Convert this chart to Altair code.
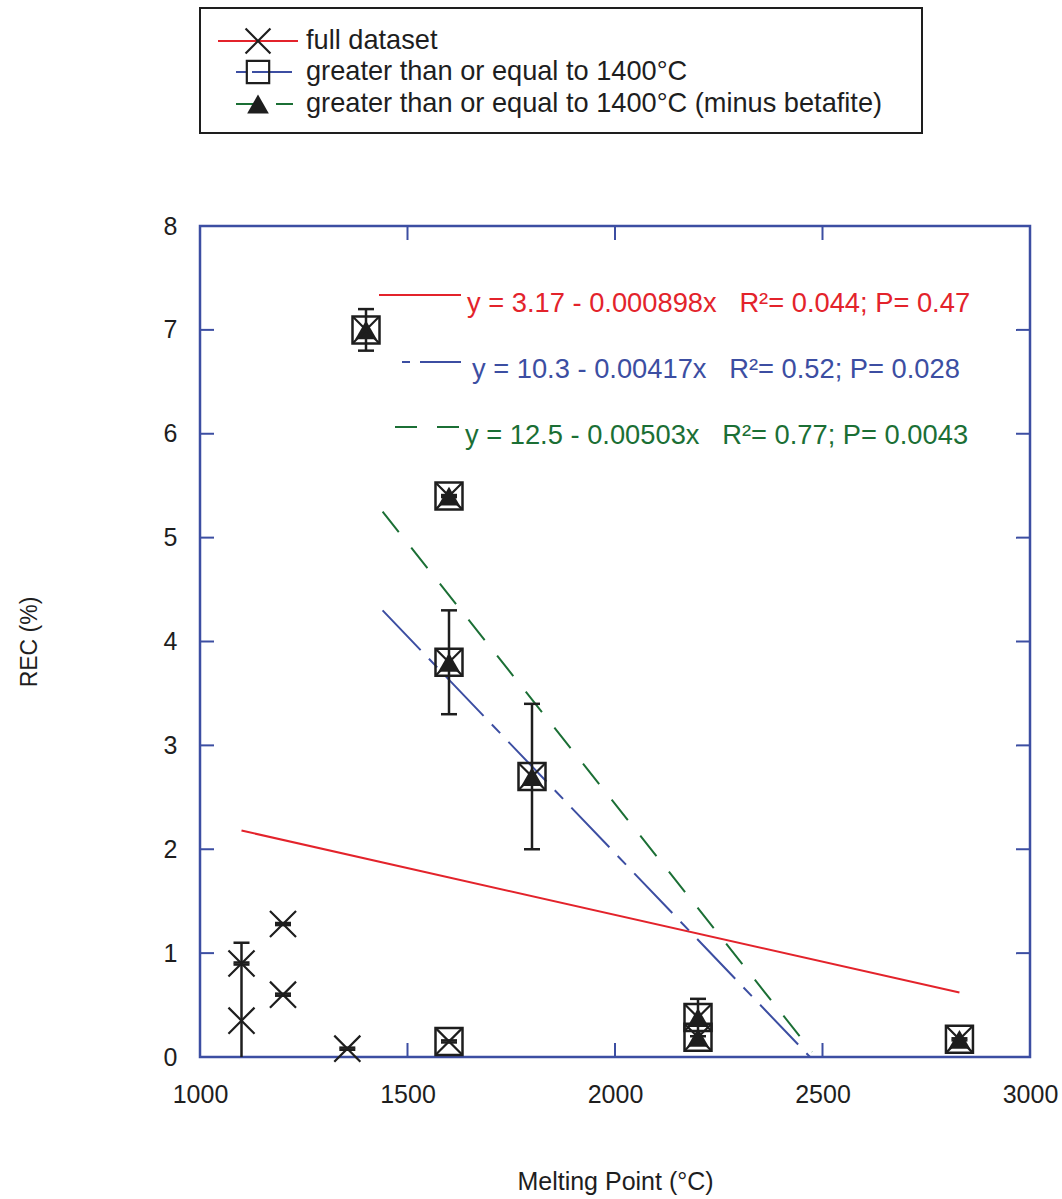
import altair as alt
import pandas as pd

# ---------------- data ----------------
full_x = [1100, 1100, 1200, 1200, 1355, 1400, 1600, 1600, 1600, 1800, 2200, 2200, 2830]
full_y = [0.35, 0.9, 1.28, 0.6, 0.08, 7.0, 5.4, 3.8, 0.15, 2.7, 0.38, 0.19, 0.17]

ge_x = [1400, 1600, 1600, 1600, 1800, 2200, 2200, 2830]
ge_y = [7.0, 5.4, 3.8, 0.15, 2.7, 0.38, 0.19, 0.17]

mb_x = [1400, 1600, 1600, 1800, 2200, 2200, 2830]
mb_y = [7.0, 5.4, 3.8, 2.7, 0.38, 0.19, 0.17]

err_x = [1100, 1100, 1200, 1200, 1355, 1400, 1600, 1600, 1600, 1800, 2200, 2830]
err_lo = [-0.4, 0.89, 1.27, 0.59, 0.07, 6.8, 5.39, 3.3, 0.14, 2.0, 0.2, 0.16]
err_hi = [1.1, 0.91, 1.29, 0.61, 0.09, 7.2, 5.41, 4.3, 0.16, 3.4, 0.56, 0.18]

fit_full_x = [1100, 2830]
fit_full_y = [2.18, 0.62]
fit_ge_x = [1440, 2470]
fit_ge_y = [4.3, 0.0]
fit_mb_x = [1440, 2475]
fit_mb_y = [5.25, 0.05]

x_ticks = [1000, 1500, 2000, 2500, 3000]
y_ticks = [0, 1, 2, 3, 4, 5, 6, 7, 8]
x_inner = [1500, 2000, 2500]
y_inner = [1, 2, 3, 4, 5, 6, 7]

legend_labels = ["full dataset", "greater than or equal to 1400°C",
                 "greater than or equal to 1400°C (minus betafite)"]
eq_labels = [
    "y = 3.17 - 0.000898x\u00a0\u00a0\u00a0R²= 0.044; P= 0.47",
    "y = 10.3 - 0.00417x\u00a0\u00a0\u00a0R²= 0.52; P= 0.028",
    "y = 12.5 - 0.00503x\u00a0\u00a0\u00a0R²= 0.77; P= 0.0043",
]

# ---------------- style ----------------
RED = "#e3232b"
BLUE = "#3c4ea2"
GREEN = "#1b6f35"
FRAME = "#3c4ea2"
INK = "#1e1e1e"
FONT = "Liberation Sans"
W, H = 830, 831
X_PATH = "M-1,-1L1,1M-1,1L1,-1"

xs = alt.Scale(domain=[1000, 3000], nice=False, zero=False)
ys = alt.Scale(domain=[0, 8], nice=False, zero=False)

X = lambda f="x": alt.X(f"{f}:Q", scale=xs, axis=alt.Axis(
    values=x_ticks, title="Melting Point (°C)", grid=False, ticks=False, tickSize=0,
    domain=False, labelFontSize=25, labelPadding=25, titleFontSize=25,
    titleFontWeight="normal", titlePadding=62, labelFont=FONT, titleFont=FONT,
    labelColor=INK, titleColor=INK, format="d", labelFlush=False))
Y = lambda f="y": alt.Y(f"{f}:Q", scale=ys, axis=alt.Axis(
    values=y_ticks, title="REC (%)", grid=False, ticks=False, tickSize=0,
    domain=False, labelFontSize=25, labelPadding=23, titleFontSize=23,
    titleFontWeight="normal", titlePadding=122, labelFont=FONT, titleFont=FONT,
    labelColor=INK, titleColor=INK, labelFlush=False))

df_full = pd.DataFrame({"x": full_x, "y": full_y})
df_ge = pd.DataFrame({"x": ge_x, "y": ge_y})
df_mb = pd.DataFrame({"x": mb_x, "y": mb_y})
df_err = pd.DataFrame({"x": err_x, "lo": err_lo, "hi": err_hi})

def fit_df(xv, yv):
    return pd.DataFrame({"x": xv, "y": yv})

line_full = alt.Chart(fit_df(fit_full_x, fit_full_y)).mark_line(
    color=RED, strokeWidth=2, clip=True).encode(x=X(), y=Y())
line_ge = alt.Chart(fit_df(fit_ge_x, fit_ge_y)).mark_line(
    color=BLUE, strokeWidth=2, strokeDash=[55, 12, 12, 12], clip=True).encode(x=X(), y=Y())
line_mb = alt.Chart(fit_df(fit_mb_x, fit_mb_y)).mark_line(
    color=GREEN, strokeWidth=2, strokeDash=[26, 20], clip=True).encode(x=X(), y=Y())

err_rule = alt.Chart(df_err).mark_rule(color=INK, strokeWidth=2.5, clip=True).encode(
    x=X(), y=Y("lo"), y2="hi")
cap_hi = alt.Chart(df_err).mark_rule(color=INK, strokeWidth=2.5, clip=True,
                                     xOffset=-8, x2Offset=8).encode(x=X(), x2="x", y=Y("hi"))
cap_lo = alt.Chart(df_err).mark_rule(color=INK, strokeWidth=2.5, clip=True,
                                     xOffset=-8, x2Offset=8).encode(x=X(), x2="x", y=Y("lo"))

tri = alt.Chart(df_mb).mark_point(shape="triangle-up", filled=True, color=INK,
                                  size=470, opacity=1).encode(x=X(), y=Y())
sq = alt.Chart(df_ge).mark_point(shape="square", filled=False, color=INK,
                                 size=729, strokeWidth=2.5, opacity=1).encode(x=X(), y=Y())
xm = alt.Chart(df_full).mark_point(shape=X_PATH, filled=False, color=INK,
                                   size=680, strokeWidth=2.2, opacity=1).encode(x=X(), y=Y())

# inward ticks
dxt = pd.DataFrame({"x": x_inner})
dyt = pd.DataFrame({"y": y_inner})
tk = dict(color=FRAME, strokeWidth=2)
t_bot = alt.Chart(dxt).mark_rule(**tk).encode(x=X(), y=alt.value(H), y2=alt.value(H - 14))
t_top = alt.Chart(dxt).mark_rule(**tk).encode(x=X(), y=alt.value(0), y2=alt.value(14))
t_left = alt.Chart(dyt).mark_rule(**tk).encode(y=Y(), x=alt.value(0), x2=alt.value(14))
t_right = alt.Chart(dyt).mark_rule(**tk).encode(y=Y(), x=alt.value(W), x2=alt.value(W - 14))

one = pd.DataFrame({"a": [0]})

# equation annotations (pixel positions relative to plot area)
eq_layers = []
eq_specs = [
    (RED, None, 179, 261, 69, 267, 78),
    (BLUE, [8, 10, 45, 0], 202, 261, 136, 272, 144),
    (GREEN, [22, 20], 195, 261, 201, 265, 210),
]
for (col, dash, x1, x2, ly, tx, ty), lab in zip(eq_specs, eq_labels):
    kw = dict(color=col, strokeWidth=2)
    if dash:
        kw["strokeDash"] = dash
    eq_layers.append(alt.Chart(one).mark_rule(**kw).encode(
        x=alt.value(x1), x2=alt.value(x2), y=alt.value(ly)))
    eq_layers.append(alt.Chart(one).mark_text(
        text=lab, color=col, font=FONT, fontSize=27.3, align="left", baseline="middle").encode(
        x=alt.value(tx), y=alt.value(ty)))

# legend box (above plot area)
leg = [alt.Chart(one).mark_rect(fill="white", stroke=INK, strokeWidth=2).encode(
    x=alt.value(0), x2=alt.value(722), y=alt.value(-218), y2=alt.value(-93))]
leg_rows = [-185, -154, -122]
leg_cols = [RED, BLUE, GREEN]
leg_dash = [None, [10, 6, 30, 0], [22, 18]]
leg_shape = [X_PATH, "square", "triangle-up"]
leg_fill = [False, False, True]
leg_size = [620, 500, 470]
for i in range(3):
    kw = dict(color=leg_cols[i], strokeWidth=2)
    if leg_dash[i]:
        kw["strokeDash"] = leg_dash[i]
    leg.append(alt.Chart(one).mark_rule(**kw).encode(
        x=alt.value(18 if i == 0 else 36),
        x2=alt.value(98 if i == 0 else 93), y=alt.value(leg_rows[i])))
    leg.append(alt.Chart(one).mark_point(shape=leg_shape[i], filled=leg_fill[i],
                                         color=INK, size=leg_size[i], strokeWidth=2.2,
                                         opacity=1).encode(
        x=alt.value(58), y=alt.value(leg_rows[i])))
    leg.append(alt.Chart(one).mark_text(text=legend_labels[i], color=INK, font=FONT,
                                        fontSize=27.2, align="left", baseline="middle").encode(
        x=alt.value(106), y=alt.value(leg_rows[i])))

chart = alt.layer(
    line_full, line_ge, line_mb,
    err_rule, cap_hi, cap_lo,
    tri, sq, xm,
    t_bot, t_top, t_left, t_right,
    *eq_layers, *leg,
).properties(
    width=W, height=H,
    background="white",
    autosize=alt.AutoSizeParams(type="none"),
    padding={"left": 200, "top": 226, "right": 32, "bottom": 142},
).configure_view(stroke=FRAME, strokeWidth=2.5)

chart.save("out.html", embed_options={"renderer": "svg", "actions": False})
